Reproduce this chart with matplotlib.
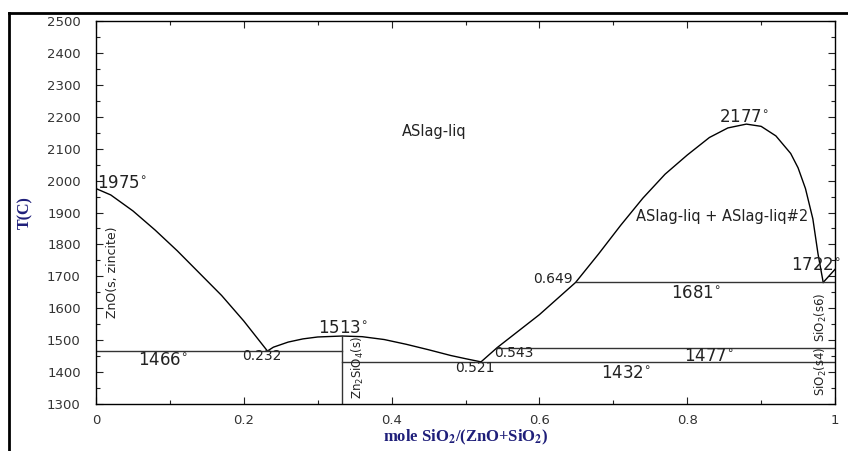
import matplotlib
matplotlib.use("Agg")
import matplotlib.pyplot as plt
from matplotlib.lines import Line2D
from matplotlib.ticker import MultipleLocator

# liquidus ZnO side
zno_x = [0.0, 0.02, 0.05, 0.08, 0.11, 0.14, 0.17, 0.20, 0.232]
zno_t = [1975, 1955, 1905, 1845, 1780, 1710, 1640, 1560, 1466]

# Zn2SiO4 liquidus
mid_x = [0.232, 0.24, 0.26, 0.28, 0.30, 0.333, 0.36, 0.39, 0.42, 0.45, 0.48, 0.50, 0.521]
mid_t = [1466, 1478, 1494, 1504, 1510, 1513, 1511, 1502, 1487, 1470, 1452, 1442, 1432]

# SiO2 side with miscibility gap dome
sio2_x = [0.521, 0.543, 0.60, 0.649, 0.68, 0.71, 0.74, 0.77, 0.80, 0.83, 0.855,
          0.88, 0.90, 0.92, 0.94, 0.95, 0.96, 0.97, 0.977, 0.984]
sio2_t = [1432, 1477, 1580, 1681, 1770, 1860, 1945, 2020, 2080, 2135, 2165,
          2177, 2170, 2140, 2085, 2040, 1975, 1880, 1770, 1681]

tail_x = [0.984, 1.0]
tail_t = [1681, 1722]

# invariant lines
iso_t = [1466, 1432, 1477, 1681]
iso_x0 = [0.0, 0.333, 0.543, 0.649]
iso_x1 = [0.333, 1.0, 1.0, 1.0]

zn2sio4_x = 0.333
zn2sio4_t = 1513

# temperature labels (value, x, T)
deg_vals = ["1975", "1466", "1513", "1681", "1477", "1432", "2177", "1722"]
deg_x = [0.001, 0.057, 0.301, 0.778, 0.795, 0.683, 0.843, 0.940]
deg_y = [1992, 1437, 1538, 1648, 1450, 1397, 2199, 1736]

comp_vals = ["0.232", "0.521", "0.543", "0.649"]
comp_x = [0.198, 0.486, 0.539, 0.591]
comp_y = [1450, 1413, 1460, 1692]

xtick_vals = [0, 0.2, 0.4, 0.6, 0.8, 1.0]
xtick_labels = ["0", "0.2", "0.4", "0.6", "0.8", "1"]

fig = plt.figure(figsize=(8.48, 4.51), dpi=100)
ax = fig.add_axes([0.1132, 0.1042, 0.8715, 0.8492])

line_kw = dict(color="black", lw=1.0)
ax.plot(zno_x, zno_t, **line_kw)
ax.plot(mid_x, mid_t, **line_kw)
ax.plot(sio2_x, sio2_t, **line_kw)
ax.plot(tail_x, tail_t, **line_kw)
for t, a, b in zip(iso_t, iso_x0, iso_x1):
    ax.plot([a, b], [t, t], color="#333333", lw=1.0)
ax.plot([zn2sio4_x, zn2sio4_x], [1300, zn2sio4_t], color="#333333", lw=1.0)

ax.set_xlim(0, 1)
ax.set_ylim(1300, 2500)
ax.set_xticks(xtick_vals)
ax.set_xticklabels(xtick_labels)
ax.xaxis.set_minor_locator(MultipleLocator(0.1))
ax.yaxis.set_major_locator(MultipleLocator(100))
ax.yaxis.set_minor_locator(MultipleLocator(50))
ax.tick_params(which="both", direction="in", top=True, right=True,
               colors="#222222", labelcolor="#333333", labelsize=9.5, width=0.8)
ax.tick_params(which="major", length=5)
ax.tick_params(which="minor", length=3)
ax.tick_params(axis="y", pad=11)
ax.tick_params(axis="x", pad=7)
for s in ax.spines.values():
    s.set_linewidth(1.0)

txt_kw = dict(fontsize=12, color="#222222")
for v, x, y in zip(deg_vals, deg_x, deg_y):
    ax.text(x, y, v + r"$^{\circ}$", ha="left", va="center", **txt_kw)
for v, x, y in zip(comp_vals, comp_x, comp_y):
    ax.text(x, y, v, ha="left", va="center", fontsize=10, color="#222222")

ax.text(0.458, 2155, "ASlag-liq", ha="center", va="center", fontsize=10.5, color="#222222")
ax.text(0.847, 1889, "ASlag-liq + ASlag-liq#2", ha="center", va="center",
        fontsize=10.5, color="#222222")
ax.text(0.022, 1714, "ZnO(s, zincite)", rotation=90, ha="center", va="center",
        fontsize=9, color="#222222")
ax.text(0.343, 1416, r"Zn$_2$SiO$_4$(s)", rotation=90, ha="left", va="center",
        fontsize=8.5, color="#222222")
ax.text(0.981, 1572, r"SiO$_2$(s6)", rotation=90, ha="center", va="center",
        fontsize=8.5, color="#222222")
ax.text(0.981, 1404, r"SiO$_2$(s4)", rotation=90, ha="center", va="center",
        fontsize=8.5, color="#222222")

ax.set_ylabel("T(C)", family="Liberation Serif", fontweight="bold",
              fontsize=11.5, color="#1f1f7a")
ax.set_xlabel(r"mole SiO$_{\mathbf{2}}$/(ZnO+SiO$_{\mathbf{2}}$)", family="Liberation Serif",
              fontweight="bold", fontsize=12, color="#1f1f7a", math_fontfamily="stix")
ax.yaxis.set_label_coords(-0.085, 0.5)
ax.xaxis.set_label_coords(0.5, -0.062)

# outer frame (top and left edges)
fig.add_artist(Line2D([9 / 848, 1], [1 - 13 / 451, 1 - 13 / 451],
                      transform=fig.transFigure, color="black", lw=2))
fig.add_artist(Line2D([9 / 848, 9 / 848], [0, 1 - 13 / 451],
                      transform=fig.transFigure, color="black", lw=2))

fig.savefig("out.png", dpi=100)
